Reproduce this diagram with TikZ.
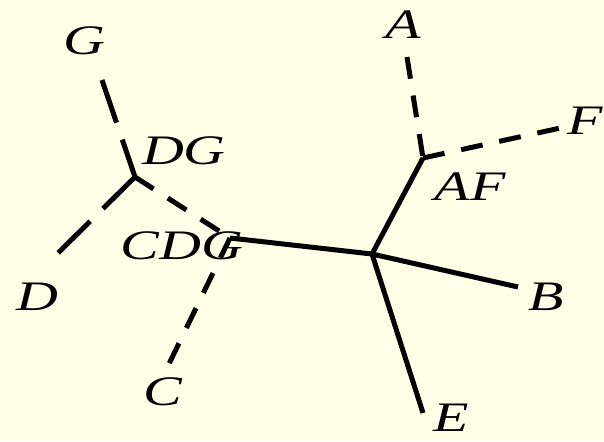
\documentclass[tikz,border=0pt]{standalone}
\usepackage{fontspec}
\newfontfamily\treefont[FakeStretch=1.38]{Liberation Serif}
\definecolor{paper}{RGB}{255,255,232}

\begin{document}
\begin{tikzpicture}[
    x=1pt, y=-1pt,
    branch/.style={line width=5pt},
    longdash/.style={branch, dash pattern=on 45pt off 18pt},
    shortdash/.style={branch, dash pattern=on 22pt off 17pt},
    taxon/.style={font=\fontsize{42}{42}\treefont\itshape, inner sep=0pt}
]
    \fill[paper] (0,0) rectangle (604,441);
    \useasboundingbox (0,0) rectangle (604,441);

    % inner vertices
    \coordinate (dg) at (135,177);
    \coordinate (cdg) at (230,238);
    \coordinate (root) at (372,254);
    \coordinate (af) at (423,158);
    % leaf ends
    \coordinate (g) at (102,80);
    \coordinate (d) at (55,256);
    \coordinate (c) at (167,368);
    \coordinate (a) at (407,57);
    \coordinate (f) at (565,127);
    \coordinate (b) at (518,287);
    \coordinate (e) at (423,413);

    \draw[longdash] (g) -- (dg);
    \draw[longdash] (dg) -- (d);
    \draw[shortdash] (dg) -- (cdg);
    \draw[shortdash] (cdg) -- (c);
    \draw[shortdash] (a) -- (af);
    \draw[shortdash] (af) -- (f);
    \draw[branch] (cdg) -- (root);
    \draw[branch] (root) -- (af);
    \draw[branch] (root) -- (b);
    \draw[branch] (root) -- (e);

    \node[taxon] (labG) at (84,41) {G};
    \node[taxon] (labDG) at (184,151) {DG};
    \node[taxon] (labCDG) at (182,246) {CDG};
    \node[taxon] (labD) at (37,297) {D};
    \node[taxon] (labC) at (163,392) {C};
    \node[taxon] (labA) at (403,25) {A};
    \node[taxon] (labF) at (585,121) {F};
    \node[taxon] (labAF) at (470,187) {AF};
    \node[taxon] (labB) at (546,297) {B};
    \node[taxon] (labE) at (451,418) {E};
\end{tikzpicture}
\end{document}
